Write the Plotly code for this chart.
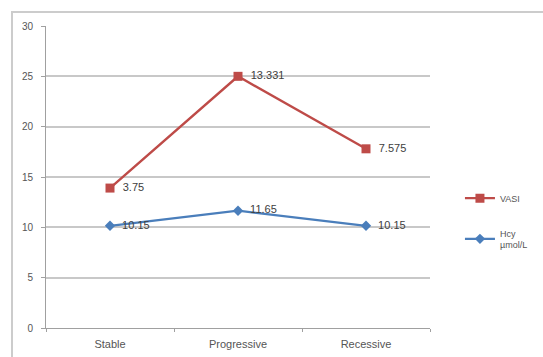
import plotly.graph_objects as go

categories = ["Stable", "Progressive", "Recessive"]
vasi_values = [13.9, 25.0, 17.8]
vasi_labels = ["3.75", "13.331", "7.575"]
hcy_values = [10.15, 11.65, 10.15]
hcy_labels = ["10.15", "11.65", "10.15"]
y_ticks = [0, 5, 10, 15, 20, 25, 30]

W, H = 543, 357
L, R, T, B = 46, 113, 26, 29

fig = go.Figure()
fig.add_trace(go.Scatter(
    x=categories, y=vasi_values, name="VASI", legendgroup="a",
    mode="lines+markers+text", text=["  " + s for s in vasi_labels],
    textposition="middle right",
    textfont=dict(size=11, color="#404040"),
    line=dict(color="#BE4B48", width=2.4),
    marker=dict(symbol="square", size=9, color="#BE4B48"),
))
fig.add_trace(go.Scatter(
    x=categories, y=hcy_values, name="Hcy<br>µmol/L", legendgroup="b",
    mode="lines+markers+text", text=["  " + s for s in hcy_labels],
    textposition="middle right",
    textfont=dict(size=11, color="#404040"),
    line=dict(color="#4A7EBB", width=2.2),
    marker=dict(symbol="diamond", size=8, color="#4A7EBB"),
))

fig.add_shape(type="rect", xref="paper", yref="paper",
              x0=(12 - L) / (W - L - R), x1=(560 - L) / (W - L - R),
              y0=(H - B - 380) / (H - T - B), y1=(H - B - 12) / (H - T - B),
              line=dict(color="#cccccc", width=2), layer="below")

fig.update_layout(
    width=W, height=H, margin=dict(l=L, r=R, t=T, b=B, autoexpand=False),
    paper_bgcolor="white", plot_bgcolor="white",
    font=dict(family="Liberation Sans, Arial, sans-serif", size=10, color="#555555"),
    showlegend=True,
    legend=dict(x=1.078, y=0.478, xanchor="left", yanchor="top",
                font=dict(size=9, color="#555555"), itemwidth=30,
                traceorder="grouped", tracegroupgap=18,
                bgcolor="rgba(0,0,0,0)"),
    xaxis=dict(type="category", range=[-0.5, 2.5], showgrid=False,
               showline=True, linecolor="#a0a0a0", linewidth=1,
               ticks="outside", ticklen=3, tickcolor="#a0a0a0",
               tickson="boundaries", ticklabelstandoff=6, automargin=False,
               tickfont=dict(size=11, color="#555555")),
    yaxis=dict(range=[0, 30], tickvals=y_ticks, showgrid=True,
               gridcolor="#c8c8c8", gridwidth=1.5,
               showline=True, linecolor="#a0a0a0", linewidth=1,
               ticks="outside", ticklen=4, tickcolor="#a0a0a0",
               ticklabelstandoff=6, automargin=False,
               zeroline=False, tickfont=dict(size=10, color="#555555")),
)

fig.write_html("out.html")
